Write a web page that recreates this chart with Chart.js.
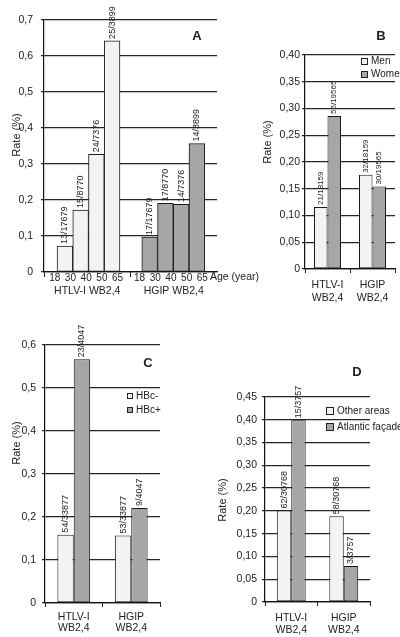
<!DOCTYPE html>
<html>
<head>
<meta charset="utf-8">
<script src="https://cdn.jsdelivr.net/npm/chart.js@4.4.1/dist/chart.umd.min.js"></script>
<style>
  body { margin: 0; background: #fff; }
  #wrap { position: relative; width: 400px; height: 637px; overflow: hidden; background: #fff; }
  canvas { position: absolute; }
</style>
</head>
<body>
<div id="wrap">
  <canvas id="chartA" width="265" height="300" style="left:0;top:0"></canvas>
  <canvas id="chartB" width="142" height="305" style="left:258px;top:0"></canvas>
  <canvas id="chartC" width="200" height="317" style="left:0;top:320px"></canvas>
  <canvas id="chartD" width="195" height="317" style="left:205px;top:320px"></canvas>
</div>
<script>
// panel A - by age
const ageBins = ["18", "30", "40", "50", "65"];
const ageRateHtlv = [0.072, 0.172, 0.327, 0.642];
const ageRateHgip = [0.097, 0.191, 0.188, 0.357];
const ageCountHtlv = ["13/17679", "15/8770", "24/7376", "25/3899"];
const ageCountHgip = ["17/17679", "17/8770", "14/7376", "14/3899"];
const markersA = ["HTLV-I WB2,4", "HGIP WB2,4"];

// panels B, C, D share the two markers
const markers = [["HTLV-I", "WB2,4"], ["HGIP", "WB2,4"]];

const sexRateMen = [0.116, 0.176];
const sexRateWomen = [0.286, 0.154];
const sexCountMen = ["21/18159", "32/18159"];
const sexCountWomen = ["56/19565", "30/19565"];

const hbcRateNeg = [0.159, 0.157];
const hbcRatePos = [0.567, 0.221];
const hbcCountNeg = ["54/33877", "53/33877"];
const hbcCountPos = ["23/4047", "9/4047"];

const areaRateOther = [0.201, 0.188];
const areaRateAtlantic = [0.399, 0.079];
const areaCountOther = ["62/30768", "58/30768"];
const areaCountAtlantic = ["15/3757", "3/3757"];

const FONT = "'Liberation Sans', Arial, Helvetica, sans-serif";
const INK = "#222";
const LIGHT = "#f3f3f3";
const DARK = "#a6a6a6";

// rotated n/N text sitting on top of each bar
const countLabels = (size) => ({
  id: "countLabels",
  afterDatasetsDraw(chart) {
    const ctx = chart.ctx;
    ctx.save();
    ctx.font = size + "px " + FONT;
    ctx.fillStyle = INK;
    ctx.textAlign = "left";
    ctx.textBaseline = "middle";
    chart.data.datasets.forEach((ds, i) => {
      chart.getDatasetMeta(i).data.forEach((bar, j) => {
        ctx.save();
        ctx.translate(bar.x, bar.y - 2);
        ctx.rotate(-Math.PI / 2);
        ctx.fillText(ds.counts[j], 0, 0);
        ctx.restore();
      });
    });
    ctx.restore();
  }
});

const boxLegend = (x, y, gap, box) => ({
  id: "boxLegend",
  afterDraw(chart) {
    const ctx = chart.ctx;
    ctx.save();
    ctx.font = "10px " + FONT;
    ctx.textBaseline = "middle";
    chart.data.datasets.forEach((ds, i) => {
      const top = y + i * gap;
      ctx.fillStyle = ds.backgroundColor;
      ctx.fillRect(x, top, box, box);
      ctx.strokeStyle = INK;
      ctx.lineWidth = 1;
      ctx.strokeRect(x + 0.5, top + 0.5, box - 1, box - 1);
      ctx.fillStyle = INK;
      ctx.fillText(ds.label, x + box + 3, top + box / 2);
    });
    ctx.restore();
  }
});

const notes = (items) => ({
  id: "notes",
  afterDraw(chart) {
    const ctx = chart.ctx;
    items.forEach(n => {
      ctx.save();
      ctx.font = n.font || ("11px " + FONT);
      ctx.fillStyle = INK;
      ctx.textAlign = n.align || "center";
      ctx.textBaseline = "middle";
      ctx.translate(n.x, n.y);
      if (n.rotate) ctx.rotate(-Math.PI / 2);
      ctx.fillText(n.text, 0, 0);
      ctx.restore();
    });
  }
});

function yAxis(max, step, decimals, width, pad) {
  return {
    min: 0,
    max: max,
    ticks: {
      stepSize: step,
      padding: pad,
      color: INK,
      font: { family: FONT, size: 10.5 },
      callback: v => v === 0 ? "0" : v.toFixed(decimals).replace(".", ",")
    },
    grid: { color: "#262626", lineWidth: 1.3, tickLength: 3, tickColor: "#262626" },
    border: { color: "#111", width: 1.2 },
    afterFit: s => { s.width = width; }
  };
}

function groupAxis(height, pad, lineHeight) {
  return {
    type: "category",
    ticks: { padding: pad, color: INK, font: { family: FONT, size: 10.5, lineHeight: lineHeight }, maxRotation: 0, autoSkip: false },
    grid: { offset: true, drawOnChartArea: false, tickLength: 4, tickColor: "#222" },
    border: { color: "#111", width: 1.2 },
    afterFit: s => { s.height = height; }
  };
}

function bars(label, values, counts, color) {
  return { label, data: values, counts, backgroundColor: color, borderColor: "#1a1a1a", borderWidth: 1, borderSkipped: false };
}

const base = {
  responsive: false,
  animation: false,
  plugins: { legend: { display: false }, tooltip: { enabled: false } }
};

// ---- A ----
const startA = [0.83, 6.22]; // left edge of first bar of each group, in bar widths
const edgeTicks = [{ value: 0, name: "" }, { value: 5.5, name: "" }];
startA.forEach(s => ageBins.forEach((b, k) => edgeTicks.push({ value: s + k - 0.15, name: b })));

new Chart(document.getElementById("chartA"), {
  type: "bar",
  data: {
    datasets: [
      Object.assign(bars("HTLV-I", ageRateHtlv.map((v, i) => ({ x: startA[0] + i + 0.5, y: v })), ageCountHtlv, LIGHT), { grouped: false, xAxisID: "x" }),
      Object.assign(bars("HGIP", ageRateHgip.map((v, i) => ({ x: startA[1] + i + 0.5, y: v })), ageCountHgip, DARK), { grouped: false, xAxisID: "x" })
    ]
  },
  options: Object.assign({}, base, {
    layout: { padding: { top: 20, right: 48, left: 0, bottom: 0 } },
    datasets: { bar: { categoryPercentage: 1, barPercentage: 1 } },
    scales: {
      x: {
        type: "linear", min: 0, max: 11, offset: false, weight: 0,
        afterBuildTicks: s => { s.ticks = edgeTicks.map(t => ({ value: t.value })); },
        ticks: {
          autoSkip: false, maxRotation: 0, padding: -5, color: INK,
          font: { family: FONT, size: 10 },
          callback: (v, i) => edgeTicks[i] ? edgeTicks[i].name : ""
        },
        grid: {
          offset: false, drawOnChartArea: false, tickLength: 5,
          tickColor: c => (edgeTicks[c.index] && edgeTicks[c.index].name === "") ? "#222" : "rgba(0,0,0,0)"
        },
        border: { color: "#111", width: 1.2 },
        afterFit: s => { s.height = 12; }
      },
      x2: {
        type: "category", labels: markersA, position: "bottom", weight: 1,
        grid: { display: false, drawTicks: false }, border: { display: false },
        ticks: { padding: 1, color: INK, font: { family: FONT, size: 10.5 } },
        afterFit: s => { s.height = 16; }
      },
      y: yAxis(0.7, 0.1, 1, 44, 8)
    }
  }),
  plugins: [countLabels(9), notes([
    { text: "A", x: 197, y: 36, font: "bold 13px " + FONT },
    { text: "Rate (%)", x: 17, y: 135, rotate: true },
    { text: "Age (year)", x: 210, y: 277, align: "left", font: "10.5px " + FONT }
  ])]
});

// ---- B ----
new Chart(document.getElementById("chartB"), {
  type: "bar",
  data: {
    labels: markers,
    datasets: [bars("Men", sexRateMen, sexCountMen, LIGHT), bars("Women", sexRateWomen, sexCountWomen, DARK)]
  },
  options: Object.assign({}, base, {
    layout: { padding: { top: 55, right: 5, left: 0, bottom: 0 } },
    datasets: { bar: { categoryPercentage: 0.6, barPercentage: 1 } },
    scales: { x: groupAxis(36, 6, 1.2), y: yAxis(0.40, 0.05, 2, 47, 2) }
  }),
  plugins: [countLabels(8), boxLegend(103, 58, 13, 7), notes([
    { text: "B", x: 123, y: 36, font: "bold 13px " + FONT },
    { text: "Rate (%)", x: 10, y: 142, rotate: true }
  ])]
});

// ---- C ----
new Chart(document.getElementById("chartC"), {
  type: "bar",
  data: {
    labels: markers,
    datasets: [bars("HBc-", hbcRateNeg, hbcCountNeg, LIGHT), bars("HBc+", hbcRatePos, hbcCountPos, DARK)]
  },
  options: Object.assign({}, base, {
    layout: { padding: { top: 25, right: 40, left: 0, bottom: 0 } },
    datasets: { bar: { categoryPercentage: 0.57, barPercentage: 1 } },
    scales: { x: groupAxis(34, 5, 1), y: yAxis(0.6, 0.1, 1, 45, 6) }
  }),
  plugins: [countLabels(9), boxLegend(127, 73, 14, 6), notes([
    { text: "C", x: 148, y: 43, font: "bold 13px " + FONT },
    { text: "Rate (%)", x: 17, y: 123, rotate: true }
  ])]
});

// ---- D ----
new Chart(document.getElementById("chartD"), {
  type: "bar",
  data: {
    labels: markers,
    datasets: [bars("Other areas", areaRateOther, areaCountOther, LIGHT), bars("Atlantic façade", areaRateAtlantic, areaCountAtlantic, DARK)]
  },
  options: Object.assign({}, base, {
    layout: { padding: { top: 77, right: 30, left: 0, bottom: 0 } },
    datasets: { bar: { categoryPercentage: 0.55, barPercentage: 1 } },
    scales: { x: groupAxis(35, 6, 1.15), y: yAxis(0.45, 0.05, 2, 60, 5) }
  }),
  plugins: [countLabels(9), boxLegend(121, 87, 16, 8), notes([
    { text: "D", x: 152, y: 52, font: "bold 13px " + FONT },
    { text: "Rate (%)", x: 18, y: 180, rotate: true }
  ])]
});
</script>
</body>
</html>
